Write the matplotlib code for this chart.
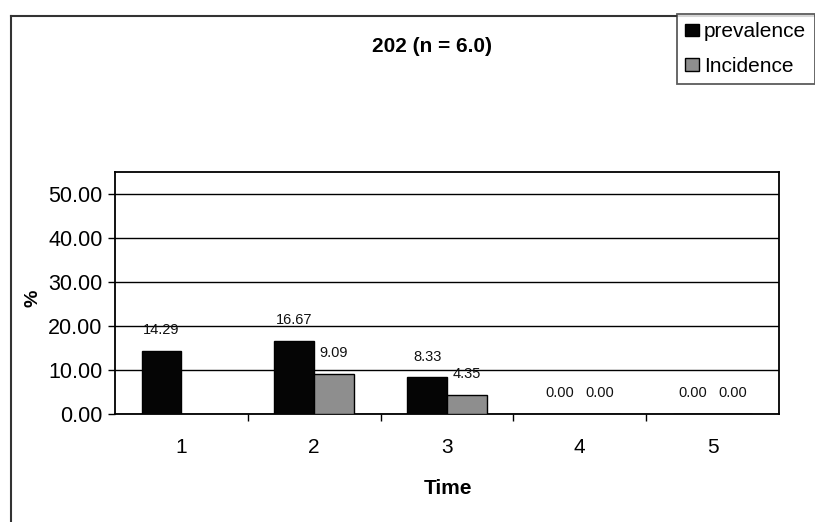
import numpy as np
import matplotlib
matplotlib.use("Agg")
import matplotlib.pyplot as plt
from matplotlib.lines import Line2D
from matplotlib.patches import Patch

plt.rcParams['font.family'] = ['Liberation Sans', 'DejaVu Sans']

# ---- data ----
times = ["1", "2", "3", "4", "5"]
prevalence = [14.29, 16.67, 8.33, 0.00, 0.00]
incidence = [np.nan, 9.09, 4.35, 0.00, 0.00]
series_names = ["prevalence", "Incidence"]
title = "202 (n = 6.0)"
yticks = [0, 10, 20, 30, 40, 50]

W, H = 815, 522
fig = plt.figure(figsize=(W / 100, H / 100), dpi=100)
fig.patch.set_facecolor('white')

def fx(px):
    return px / W

def fy(py):
    return 1 - py / H

ax = fig.add_axes([fx(115), fy(414), fx(779) - fx(115), fy(172) - fy(414)])

x = np.arange(len(times))
bw = 0.3
prev_color = '#050505'
inc_color = '#8e8e8e'
b1 = ax.bar(x - bw / 2, prevalence, bw, color=prev_color, edgecolor='black', linewidth=1, zorder=3)
b2 = ax.bar(x + bw / 2, incidence, bw, color=inc_color, edgecolor='black', linewidth=1, zorder=3)

for bars, vals in ((b1, prevalence), (b2, incidence)):
    for rect, v in zip(bars, vals):
        if np.isnan(v):
            continue
        ax.annotate(f"{v:.2f}", (rect.get_x() + rect.get_width() / 2, v),
                    xytext=(0, 15), textcoords='offset points',
                    ha='center', va='center', fontsize=10.5, color='#111111')

ax.set_xlim(-0.5, len(times) - 0.5)
ax.set_ylim(0, 55)
ax.set_yticks(yticks)
ax.set_yticklabels([f"{t:.2f}" for t in yticks], fontsize=15.5)
ax.set_xticks(x)
ax.set_xticklabels(times, fontsize=15)
ax.set_xticks(np.arange(0.5, len(times) - 1, 1), minor=True)
ax.tick_params(axis='x', which='major', length=0, pad=17)
ax.tick_params(axis='x', which='minor', length=5, width=1, direction='out')
ax.tick_params(axis='y', length=5, width=1, direction='out', pad=4)
ax.yaxis.grid(True, color='black', linewidth=1, zorder=0)
ax.set_axisbelow(True)
for s in ax.spines.values():
    s.set_color('black')
    s.set_linewidth(1.3)

fig.text(fx(432), fy(47), title, fontsize=15, fontweight='bold', ha='center', va='center')
fig.text(fx(448), fy(488), "Time", fontsize=15, fontweight='bold', ha='center', va='center')
fig.text(fx(33), fy(298), "%", fontsize=14, fontweight='bold', ha='center', va='center', rotation=90)

# outer chart frame
fig.add_artist(Line2D([fx(11), fx(11)], [fy(16), 0], color='#333333', lw=1.5))
fig.add_artist(Line2D([fx(11), 1], [fy(16), fy(16)], color='#333333', lw=1.5))

handles = [Patch(facecolor=prev_color, edgecolor='black'),
           Patch(facecolor=inc_color, edgecolor='black')]
leg = fig.legend(handles, series_names, loc='upper left', bbox_to_anchor=(fx(677), fy(14)),
                 fontsize=15, frameon=True, fancybox=False, borderaxespad=0,
                 handlelength=0.65, handleheight=0.55, handletextpad=0.25,
                 borderpad=0.4, labelspacing=0.75)
leg.get_frame().set_edgecolor('#333333')
leg.get_frame().set_linewidth(1.3)

fig.savefig("out.png", dpi=100)
